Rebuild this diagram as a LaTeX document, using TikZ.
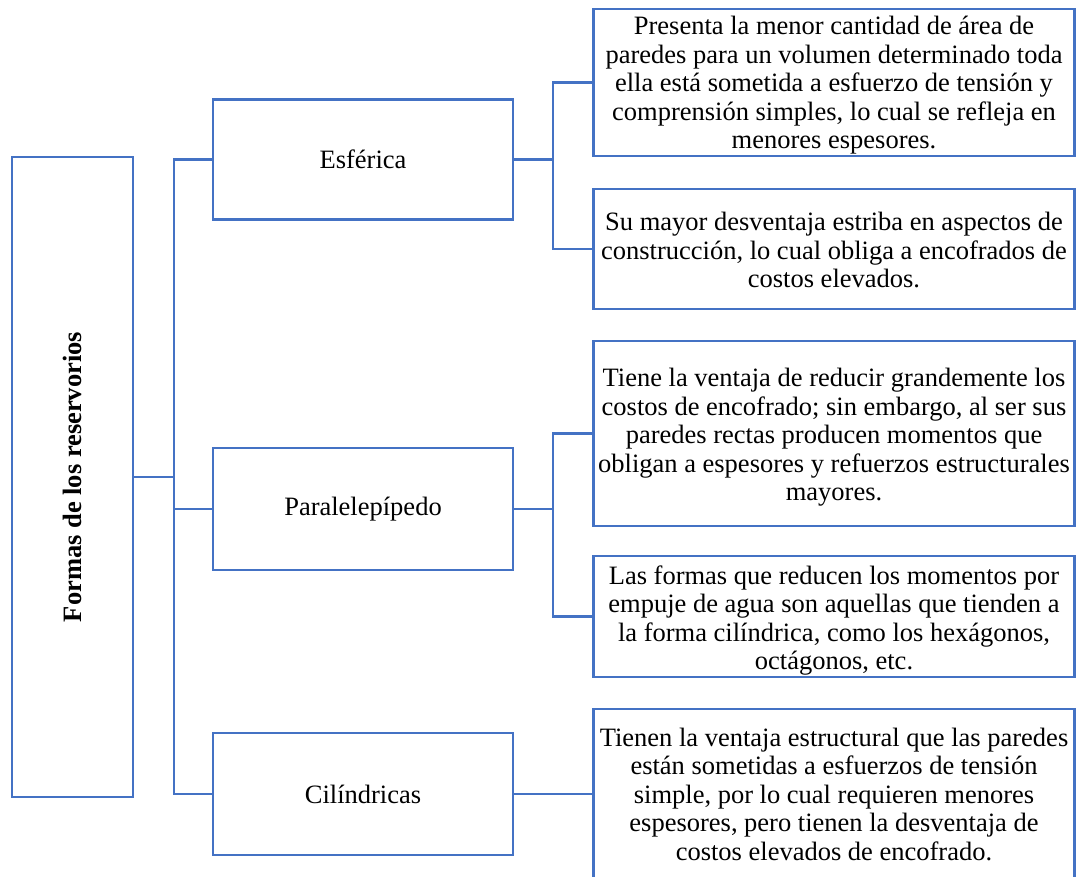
\documentclass[tikz,border=0pt]{standalone}
\usepackage{fontspec}
\setmainfont{Liberation Serif}
\definecolor{boxblue}{HTML}{4472C4}
\begin{document}
\begin{tikzpicture}[x=1pt,y=-1pt,
  frame/.style={draw=boxblue, line width=2.2pt, rectangle, inner sep=0pt,
    align=center, font=\fontsize{26.5}{28.5}\selectfont},
  txt/.style={inner sep=0pt, align=center, font=\fontsize{26.5}{28.5}\selectfont},
  link/.style={draw=boxblue, line width=2.2pt}]
\clip (0,0) rectangle (1079,877);

% root box with rotated title
\node[frame, minimum width=121pt, minimum height=640pt] (root) at (72.5,477) {};
\node[rotate=90, font=\fontsize{26.5}{28.5}\selectfont\bfseries] (title) at (root.center) {Formas de los reservorios};

% shape boxes
\node[frame, minimum width=300pt, minimum height=120pt] (esf) at (363,159.5) {Esférica};
\node[frame, minimum width=300pt, minimum height=122pt] (par) at (363,509) {Paralelepípedo};
\node[frame, minimum width=300pt, minimum height=122pt] (cil) at (363,794) {Cilíndricas};

% description boxes
\node[frame, minimum width=481pt, minimum height=147pt] (b1) at (834,82.5) {};
\node[txt, yshift=-3pt] (b1t) at (b1.center)
  {Presenta la menor cantidad de área de\\paredes para un volumen determinado toda\\ella está sometida a esfuerzo de tensión y\\comprensión simples, lo cual se refleja en\\menores espesores.};
\node[frame, minimum width=481pt, minimum height=120pt] (b2) at (834,249) {};
\node[txt, yshift=-1pt] (b2t) at (b2.center)
  {Su mayor desventaja estriba en aspectos de\\construcción, lo cual obliga a encofrados de\\costos elevados.};
\node[frame, minimum width=481pt, minimum height=185pt] (b3) at (834,433.5) {};
\node[txt, yshift=-4pt] (b3t) at (b3.center)
  {Tiene la ventaja de reducir grandemente los\\costos de encofrado; sin embargo, al ser sus\\paredes rectas producen momentos que\\obligan a espesores y refuerzos estructurales\\mayores.};
\node[frame, minimum width=481pt, minimum height=121pt] (b4) at (834,616.5) {};
\node[txt, yshift=-4pt] (b4t) at (b4.center)
  {Las formas que reducen los momentos por\\empuje de agua son aquellas que tienden a\\la forma cilíndrica, como los hexágonos,\\octágonos, etc.};
\node[frame, minimum width=481pt, minimum height=170pt] (b5) at (834,794) {};
\node[txt] (b5t) at (b5.center)
  {Tienen la ventaja estructural que las paredes\\están sometidas a esfuerzos de tensión\\simple, por lo cual requieren menores\\espesores, pero tienen la desventaja de\\costos elevados de encofrado.};

% bus lines
\coordinate (t) at (174,0);
\coordinate (r) at (553,0);

\draw[link] (root.east) -- (root.east -| t);
\draw[link] (esf.west) -- (esf.west -| t) -- (cil.west -| t) -- (cil.west);
\draw[link] (par.west) -- (par.west -| t);

\draw[link] (esf.east) -- (esf.east -| r);
\draw[link] (b1.west) -- (b1.west -| r) -- (b2.west -| r) -- (b2.west);
\draw[link] (par.east) -- (par.east -| r);
\draw[link] (b3.west) -- (b3.west -| r) -- (b4.west -| r) -- (b4.west);
\draw[link] (cil.east) -- (b5.west);
\end{tikzpicture}
\end{document}
